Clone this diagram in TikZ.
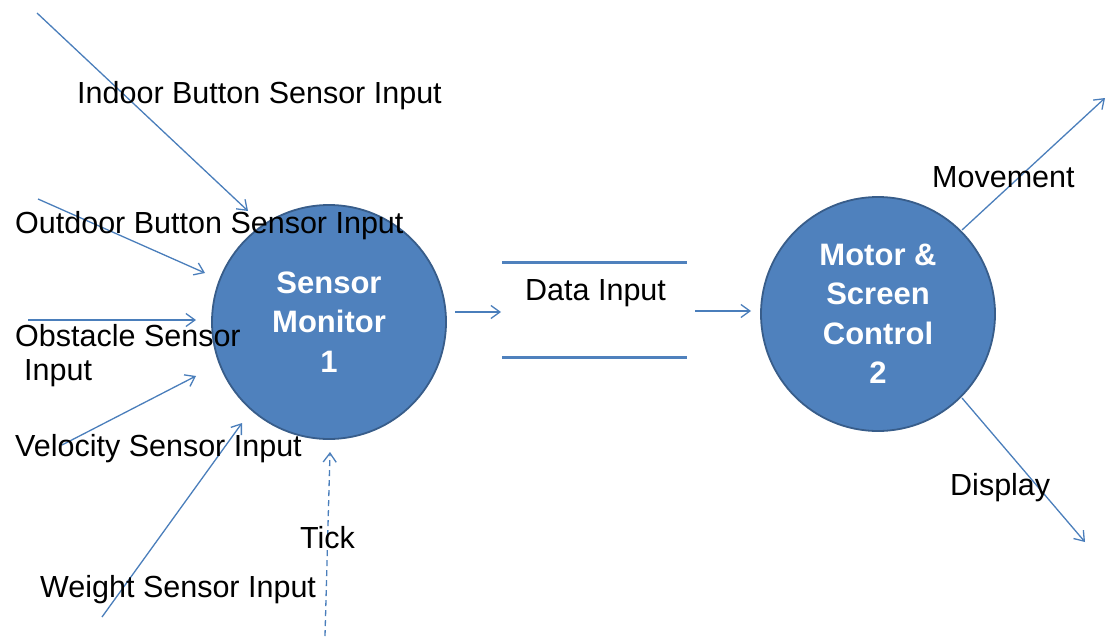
\documentclass[tikz,border=0pt]{standalone}
\usepackage{fontspec}
\setmainfont{Liberation Sans}
\usetikzlibrary{arrows.meta}
\definecolor{procfill}{HTML}{4F81BD}
\definecolor{procborder}{HTML}{385D8A}
\definecolor{flowcol}{HTML}{4A7EBB}
\begin{document}
\begin{tikzpicture}[x=1pt,y=-1pt,
  proc/.style={circle, draw=procborder, line width=1.8pt, fill=procfill, text=white,
    font=\fontsize{31}{39.5}\selectfont\bfseries, align=center, inner sep=0pt, minimum size=234pt},
  lbl/.style={anchor=base west, inner sep=0pt, font=\fontsize{30.5}{34}\selectfont, text=black},
  flow/.style={draw=flowcol, line width=1.3pt, -{Straight Barb[length=9pt,width=13pt]}},
  tickflow/.style={flow, dash pattern=on 6pt off 4pt},
  storeline/.style={draw=procfill, line width=3pt}
]
\useasboundingbox (0,0) rectangle (1110,637);

% processes
\node[proc] (c1) at (329,322) {Sensor\\Monitor\\1};
\node[proc] (c2) at (878,314) {Motor \&\\Screen\\Control\\2};

% data store
\coordinate (s1) at (502,262);
\coordinate (s2) at (687,262);
\coordinate (s3) at (502,357);
\coordinate (s4) at (687,357);
\draw[storeline] (s1) -- (s2);
\draw[storeline] (s3) -- (s4);
\node[lbl] (ds) at (525,300) {Data Input};

% connector end points
\coordinate (a1s) at (37,13);   \coordinate (a1e) at (248,211);
\coordinate (a2s) at (38,199);  \coordinate (a2e) at (205,273);
\coordinate (a3s) at (28,320);  \coordinate (a3e) at (196,320);
\coordinate (a4s) at (62,445);  \coordinate (a4e) at (196,376);
\coordinate (a5s) at (102,617); \coordinate (a5e) at (242,423);
\coordinate (a6s) at (325,636); \coordinate (a6e) at (330,452);
\coordinate (b1s) at (455,312); \coordinate (b1e) at (501,312);
\coordinate (b2s) at (695,311); \coordinate (b2e) at (751,311);
\coordinate (m1s) at (962,230); \coordinate (m1e) at (1105,98);
\coordinate (m2s) at (962,398); \coordinate (m2e) at (1085,542);

\draw[flow] (a1s) -- (a1e);
\draw[flow] (a2s) -- (a2e);
\draw[flow] (a3s) -- (a3e);
\draw[flow] (a4s) -- (a4e);
\draw[flow] (a5s) -- (a5e);
\draw[tickflow] (a6s) -- (a6e);
\draw[flow] (b1s) -- (b1e);
\draw[flow] (b2s) -- (b2e);
\draw[flow] (m1s) -- (m1e);
\draw[flow] (m2s) -- (m2e);

% labels
\node[lbl] (l1) at (77,103) {Indoor Button Sensor Input};
\node[lbl] (l2) at (15,233) {Outdoor Button Sensor Input};
\node[lbl] (l3) at (15,346) {Obstacle Sensor};
\node[lbl] (l3b) at (24,380) {Input};
\node[lbl] (l4) at (15,456) {Velocity Sensor Input};
\node[lbl] (l5) at (40,597) {Weight Sensor Input};
\node[lbl] (l6) at (300,548) {Tick};
\node[lbl] (l7) at (932,187) {Movement};
\node[lbl] (l8) at (950,495) {Display};
\end{tikzpicture}
\end{document}
